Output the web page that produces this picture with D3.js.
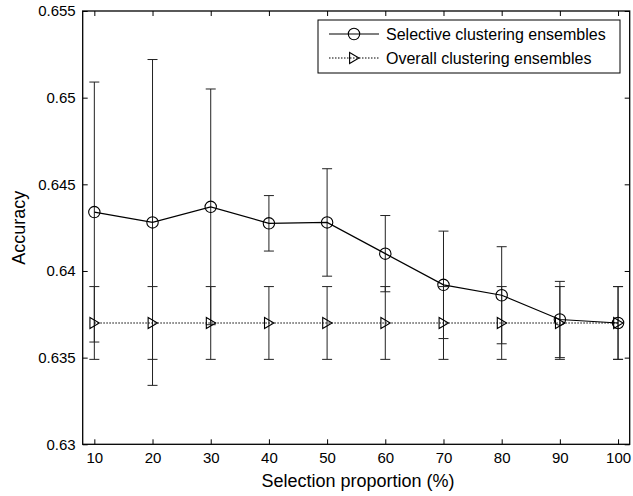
<!DOCTYPE html>
<meta charset="utf-8">
<style>
  html, body { margin: 0; padding: 0; background: #fff; }
  svg { display: block; font-family: "Liberation Sans", Arial, sans-serif; }
  .err { stroke: #222; stroke-width: 1; fill: none; }
  .sel { stroke: #000; stroke-width: 1.2; fill: none; }
  .ov { stroke: #000; stroke-width: 1.2; fill: none; stroke-dasharray: 1.5 1.5; }
  .mark { stroke: #000; stroke-width: 1.1; fill: none; }
</style>
<div id="chart"></div>
<script src="https://cdnjs.cloudflare.com/ajax/libs/d3/7.8.5/d3.min.js"></script>
<script>
var proportions = [10, 20, 30, 40, 50, 60, 70, 80, 90, 100];
var selMean = [0.6434, 0.6428, 0.6437, 0.64275, 0.6428, 0.6410, 0.6392, 0.6386, 0.6372, 0.6370];
var selErr  = [0.0075, 0.0094, 0.0068, 0.0016, 0.0031, 0.0022, 0.0031, 0.0028, 0.0022, 0.0021];
var ovMean  = [0.6370, 0.6370, 0.6370, 0.6370, 0.6370, 0.6370, 0.6370, 0.6370, 0.6370, 0.6370];
var ovErr   = [0.0021, 0.0021, 0.0021, 0.0021, 0.0021, 0.0021, 0.0021, 0.0021, 0.0021, 0.0021];
var yTicks = [0.63, 0.635, 0.64, 0.645, 0.65, 0.655];
var legendLabels = ["Selective clustering ensembles", "Overall clustering ensembles"];

var W = 633, H = 496;
var svg = d3.select("#chart").append("svg").attr("width", W).attr("height", H);

var x = d3.scaleLinear().domain([8, 102]).range([82.7, 629.7]);
var y = d3.scaleLinear().domain([0.63, 0.655]).range([444.3, 11]);

var tk = 5;
// axes with inward ticks
svg.append("g").attr("transform", "translate(0," + y(0.63) + ")")
  .call(d3.axisBottom(x).tickValues(proportions).tickSize(-tk).tickPadding(tk + 3).tickFormat(d3.format("d")))
  .call(g => g.select(".domain").remove());
svg.append("g").attr("transform", "translate(0," + y(0.655) + ")")
  .call(d3.axisTop(x).tickValues(proportions).tickSize(-tk).tickFormat(""))
  .call(g => g.select(".domain").remove());
svg.append("g").attr("transform", "translate(" + x(8) + ",0)")
  .call(d3.axisLeft(y).tickValues(yTicks).tickSize(-tk).tickPadding(tk + 2).tickFormat(d => String(+d.toFixed(3))))
  .call(g => g.select(".domain").remove());
svg.append("g").attr("transform", "translate(" + x(102) + ",0)")
  .call(d3.axisRight(y).tickValues(yTicks).tickSize(-tk).tickFormat(""))
  .call(g => g.select(".domain").remove());
svg.selectAll(".tick text").attr("font-size", 15).attr("fill", "#000")
  .attr("font-family", "'Liberation Sans', Arial, sans-serif");
svg.selectAll(".tick line").attr("stroke", "#000");

svg.append("rect").attr("x", x(8)).attr("y", y(0.655))
  .attr("width", x(102) - x(8)).attr("height", y(0.63) - y(0.655))
  .attr("fill", "none").attr("stroke", "#000").attr("stroke-width", 1.3);

var cap = 5;
function errorBars(means, errs) {
  var g = svg.append("g").attr("class", "err");
  proportions.forEach(function (p, i) {
    var hi = y(means[i] + errs[i]), lo = y(means[i] - errs[i]), cx = x(p);
    g.append("line").attr("x1", cx).attr("x2", cx).attr("y1", hi).attr("y2", lo);
    g.append("line").attr("x1", cx - cap).attr("x2", cx + cap).attr("y1", hi).attr("y2", hi);
    g.append("line").attr("x1", cx - cap).attr("x2", cx + cap).attr("y1", lo).attr("y2", lo);
  });
}
errorBars(selMean, selErr);
errorBars(ovMean, ovErr);

var line = d3.line().x((d, i) => x(proportions[i])).y(d => y(d));
svg.append("path").attr("class", "sel").attr("d", line(selMean));
svg.append("path").attr("class", "ov").attr("d", line(ovMean));

function circle(g, cx, cy) {
  g.append("circle").attr("class", "mark").attr("cx", cx).attr("cy", cy).attr("r", 5.7);
}
function tri(g, cx, cy) {
  var s = 5.5;
  g.append("path").attr("class", "mark")
    .attr("d", "M" + (cx - s * 0.8) + "," + (cy - s) + "L" + (cx + s * 0.9) + "," + cy + "L" + (cx - s * 0.8) + "," + (cy + s) + "Z");
}
var mk = svg.append("g");
proportions.forEach(function (p, i) { circle(mk, x(p), y(selMean[i])); });
proportions.forEach(function (p, i) { tri(mk, x(p), y(ovMean[i])); });

// legend
var lg = svg.append("g");
lg.append("rect").attr("x", 318).attr("y", 20).attr("width", 302).attr("height", 53)
  .attr("fill", "#fff").attr("stroke", "#000").attr("stroke-width", 1);
var rows = [34, 58];
lg.append("line").attr("class", "sel").attr("x1", 329).attr("x2", 379).attr("y1", rows[0]).attr("y2", rows[0]);
circle(lg, 354, rows[0]);
lg.append("line").attr("class", "ov").attr("x1", 329).attr("x2", 379).attr("y1", rows[1]).attr("y2", rows[1]);
tri(lg, 354, rows[1]);
legendLabels.forEach(function (t, i) {
  lg.append("text").attr("x", 386).attr("y", rows[i]).attr("dy", "0.35em")
    .attr("font-size", 16).text(t);
});

svg.append("text").attr("x", 358).attr("y", 487)
  .attr("text-anchor", "middle").attr("font-size", 18).text("Selection proportion (%)");
svg.append("text").attr("transform", "translate(25," + y(0.6425) + ") rotate(-90)")
  .attr("text-anchor", "middle").attr("font-size", 18).text("Accuracy");
</script>
